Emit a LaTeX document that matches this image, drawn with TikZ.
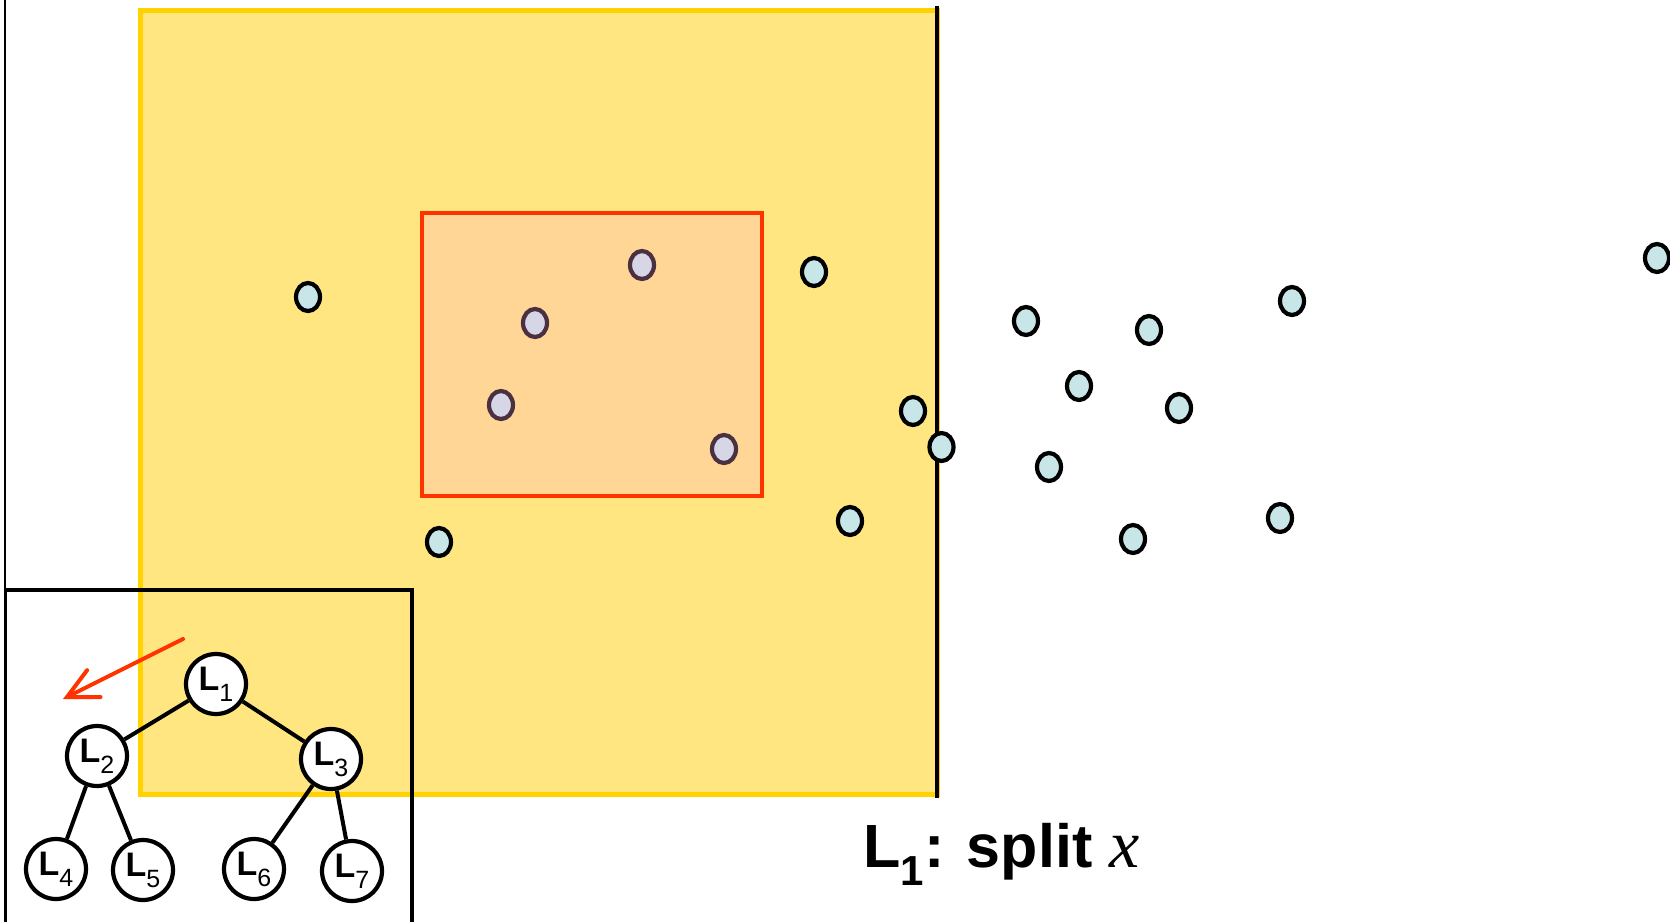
\documentclass[tikz,border=0pt]{standalone}
\usepackage{fontspec}
\setmainfont{Liberation Sans}
\newfontfamily\varfont{Liberation Serif}
\usetikzlibrary{arrows.meta}

\definecolor{kdCellFill}{RGB}{255,230,128}
\definecolor{kdCellDraw}{RGB}{255,210,0}
\definecolor{kdQueryFill}{RGB}{255,214,150}
\definecolor{kdQueryDraw}{RGB}{255,51,0}
\definecolor{kdPointFill}{RGB}{200,230,232}
\definecolor{kdHitFill}{RGB}{214,214,230}
\definecolor{kdHitDraw}{RGB}{74,48,64}

\newcommand{\lvl}[1]{L\raisebox{-0.32em}{\fontsize{12.5pt}{12.5pt}\mdseries\selectfont#1}}

\tikzset{
  treenode/.style={circle, draw=black, fill=white, line width=2.1pt,
    minimum size=30pt, inner sep=0pt, font=\fontsize{17pt}{18pt}\selectfont\bfseries},
  treeedge/.style={draw=black, line width=2pt}
}

\begin{document}
\begin{tikzpicture}
% k-d tree split, drawn on a pixel grid
\def\pxsz{0.5pt}
\begin{scope}[x=\pxsz, y=-\pxsz, line cap=butt, line join=miter]
  \useasboundingbox (0,0) rectangle (1670,921);
  \clip (0,0) rectangle (1670,921);
  % Cell of L1 (left half)
  \path[fill=kdCellFill, draw=kdCellDraw, line width=2.5pt] (140,10.5) rectangle (937,794);
  % Query box
  \path[fill=kdQueryFill, draw=kdQueryDraw, line width=2.2pt] (422,213) rectangle (762,496);
  % Split line and left frame
  \draw[line width=1.7pt] (937,6) -- (937,798);
  \draw[line width=1.2pt] (5,0) -- (5,590);
  % Points outside the query box
  \begin{scope}[fill=kdPointFill, draw=black, line width=2.1pt]
    \foreach \px/\py in {308/297, 814/272, 439/542, 913/411, 941.5/447, 850/521,
        1026/321, 1149/330, 1292/301, 1079/386, 1179/408, 1049/467,
        1133/539, 1280/518, 1657/258}
      \filldraw (\px,\py) ellipse [x radius=6pt, y radius=7pt];
  \end{scope}
  % Points inside the query box
  \begin{scope}[fill=kdHitFill, draw=kdHitDraw, line width=2.1pt]
    \foreach \px/\py in {642/265, 535/323, 501/405, 724/449}
      \filldraw (\px,\py) ellipse [x radius=6pt, y radius=7pt];
  \end{scope}
  % Tree inset
  \draw[line width=1.8pt] (5.5,925) -- (5.5,590) -- (412,590) -- (412,925);
  \node[treenode] (l1) at (216,684) {\lvl{1}};
  \node[treenode] (l2) at (97,756) {\lvl{2}};
  \node[treenode] (l3) at (331,759) {\lvl{3}};
  \node[treenode] (l4) at (56,869) {\lvl{4}};
  \node[treenode] (l5) at (143,870) {\lvl{5}};
  \node[treenode] (l6) at (254,869) {\lvl{6}};
  \node[treenode] (l7) at (352,871) {\lvl{7}};
  \draw[treeedge] (l1) -- (l2);
  \draw[treeedge] (l1) -- (l3);
  \draw[treeedge] (l2) -- (l4);
  \draw[treeedge] (l2) -- (l5);
  \draw[treeedge] (l3) -- (l6);
  \draw[treeedge] (l3) -- (l7);
  % Descent arrow
  \coordinate (arrowfrom) at (183,639);
  \coordinate (arrowto) at (63,699);
  \draw[draw=kdQueryDraw, line width=2pt, line cap=round,
    -{Straight Barb[length=15pt, width=15pt, line cap=round]}] (arrowfrom) -- (arrowto);
  % Caption
  \node[anchor=base west, inner sep=0pt, font=\fontsize{30.5pt}{36pt}\selectfont\bfseries]
    (caption) at (863,867)
    {L\raisebox{-0.3em}{\fontsize{21pt}{21pt}\selectfont 1}: split
     {\varfont\mdseries\itshape\fontsize{34pt}{36pt}\selectfont x}};
\end{scope}
\end{tikzpicture}
\end{document}
